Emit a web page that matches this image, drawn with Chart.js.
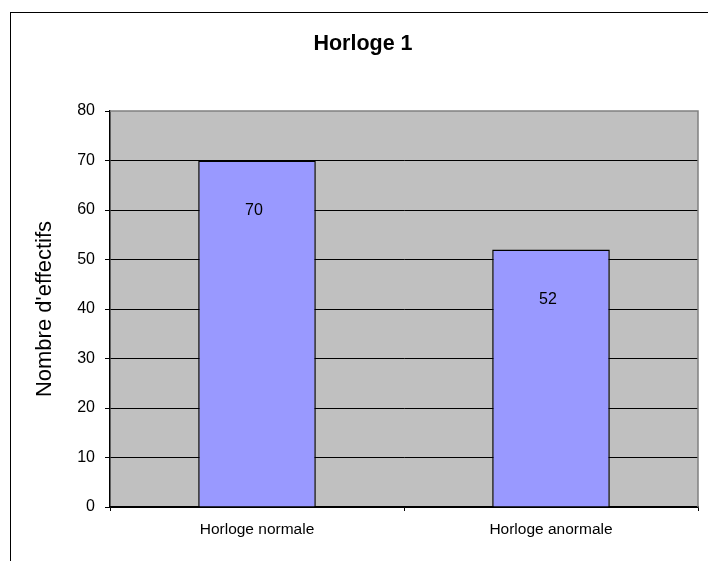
<!DOCTYPE html>
<html>
<head>
<meta charset="utf-8">
<script src="https://cdn.jsdelivr.net/npm/chart.js@4/dist/chart.umd.min.js"></script>
<style>
  html, body { margin: 0; padding: 0; background: #fff; overflow: hidden; }
  #frame { position: absolute; left: 10px; top: 12px; width: 760px; height: 620px; border: 1.5px solid #000; box-sizing: border-box; }
  #wrap { position: absolute; left: 0; top: 0; width: 708px; height: 561px; }
</style>
</head>
<body>
<div id="frame"></div>
<div id="wrap"><canvas id="c" width="708" height="561"></canvas></div>
<script>
const chartTitle = "Horloge 1";
const yAxisTitle = "Nombre d'effectifs";
const categories = ["Horloge normale", "Horloge anormale"];
const values = [70, 52];
const yTicks = [0, 10, 20, 30, 40, 50, 60, 70, 80];

const FONT = "'Liberation Sans', Arial, sans-serif";

const plotBg = {
  id: 'plotBg',
  beforeDraw(chart) {
    const { ctx, chartArea: a } = chart;
    ctx.save();
    ctx.fillStyle = '#C0C0C0';
    ctx.fillRect(a.left, a.top, a.right - a.left, a.bottom - a.top);
    ctx.restore();
  },
  afterDraw(chart) {
    const { ctx, chartArea: a } = chart;
    ctx.save();
    ctx.strokeStyle = '#808080';
    ctx.lineWidth = 1.5;
    ctx.beginPath();
    ctx.moveTo(a.left, a.top);
    ctx.lineTo(a.right, a.top);
    ctx.lineTo(a.right, a.bottom);
    ctx.stroke();
    ctx.restore();
  }
};

const dataLabels = {
  id: 'dataLabels',
  afterDatasetsDraw(chart) {
    const { ctx } = chart;
    const meta = chart.getDatasetMeta(0);
    ctx.save();
    ctx.font = '16px ' + FONT;
    ctx.fillStyle = '#000';
    ctx.textAlign = 'center';
    ctx.textBaseline = 'middle';
    meta.data.forEach((bar, i) => {
      ctx.fillText(String(values[i]), bar.x - 3, bar.y + 50);
    });
    ctx.restore();
  }
};

new Chart(document.getElementById('c'), {
  type: 'bar',
  data: {
    labels: categories,
    datasets: [{
      data: values,
      backgroundColor: '#9999FF',
      borderColor: '#000000',
      borderWidth: 1.5,
      barPercentage: 0.4,
      categoryPercentage: 1.0
    }]
  },
  options: {
    responsive: false,
    animation: false,
    events: [],
    layout: { padding: { left: 28, right: 10, top: 0, bottom: 0 } },
    plugins: {
      legend: { display: false },
      tooltip: { enabled: false },
      title: {
        display: true,
        text: chartTitle,
        color: '#000',
        font: { family: FONT, size: 21.5, weight: 'bold', lineHeight: 1.2 },
        padding: { top: 31.5, bottom: 53.7 }
      }
    },
    scales: {
      x: {
        afterFit(scale) { scale.height = 54; },
        grid: {
          offset: true,
          drawOnChartArea: false,
          drawTicks: true,
          tickLength: 4,
          color: '#000',
          tickColor: '#000'
        },
        border: { display: true, color: '#000', width: 1.5 },
        ticks: {
          color: '#000',
          font: { family: FONT, size: 15.5 },
          padding: 9,
          maxRotation: 0
        }
      },
      y: {
        min: 0,
        max: 80,
        afterFit(scale) { scale.width = 82; },
        afterBuildTicks(scale) { scale.ticks = yTicks.map(v => ({ value: v })); },
        grid: {
          drawTicks: true,
          tickLength: 5,
          color: (ctx) => (ctx.tick && ctx.tick.value === 80) ? 'rgba(0,0,0,0)' : '#000',
          tickColor: '#000',
          lineWidth: 1
        },
        border: { display: true, color: '#000', width: 1.5 },
        ticks: {
          color: '#000',
          font: { family: FONT, size: 16 },
          padding: 10
        },
        title: {
          display: true,
          text: yAxisTitle,
          color: '#000',
          font: { family: FONT, size: 22, lineHeight: 1.2 },
          padding: { top: 3.8, bottom: 0 }
        }
      }
    }
  },
  plugins: [plotBg, dataLabels]
});
</script>
</body>
</html>
